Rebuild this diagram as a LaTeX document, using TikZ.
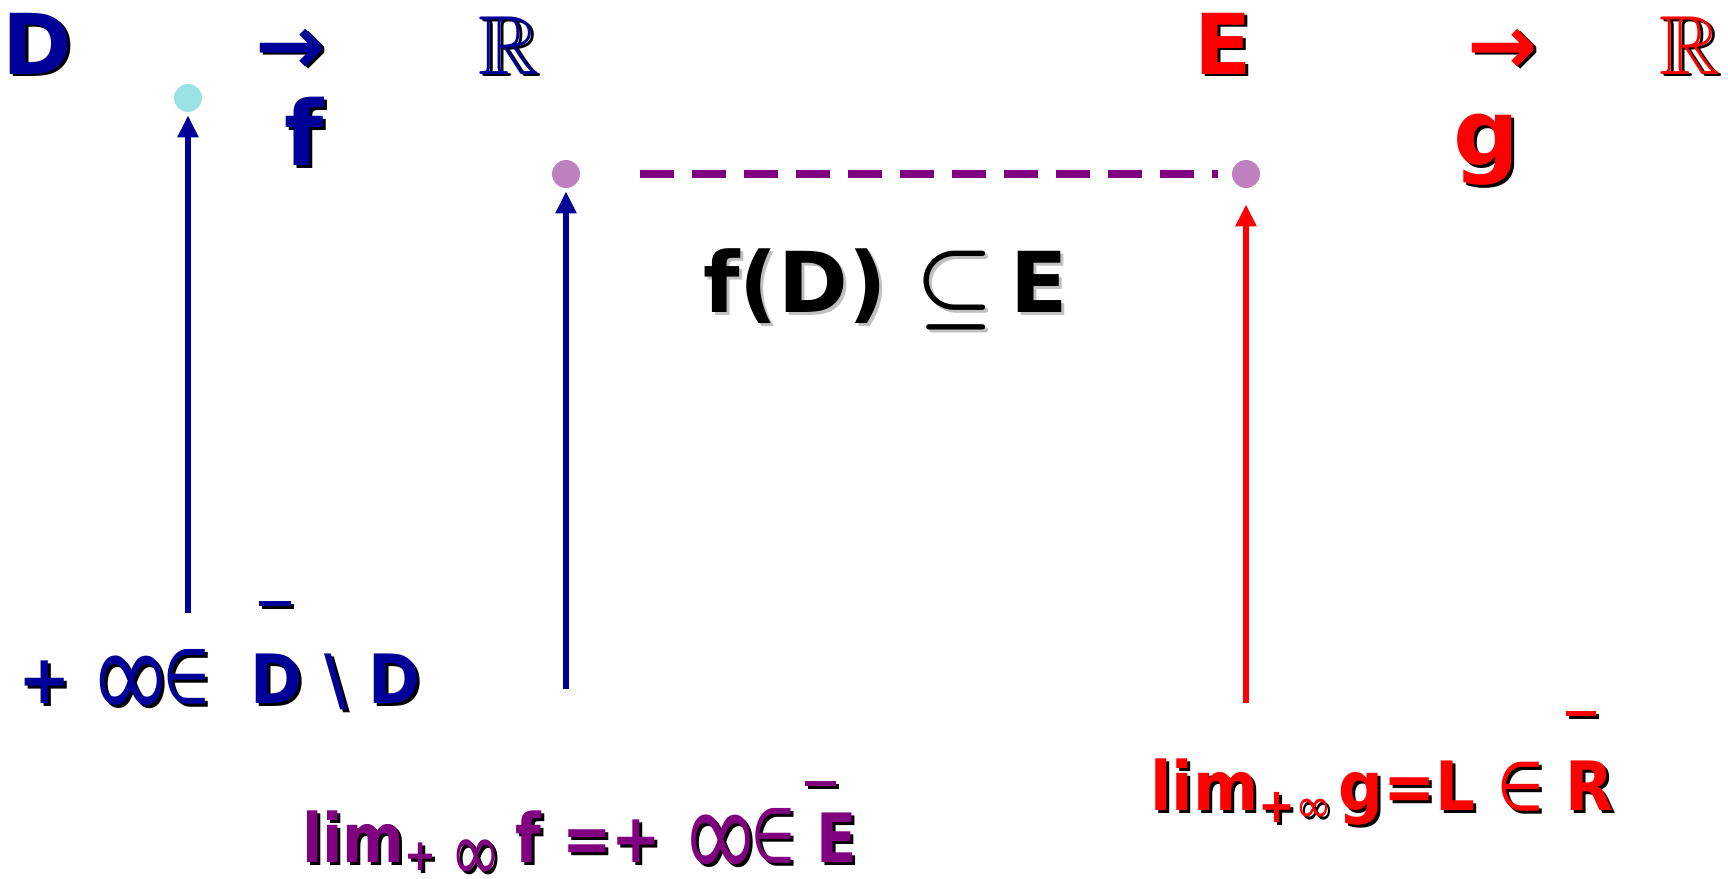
\documentclass[tikz,border=0pt]{standalone}
\usepackage{amsmath,amssymb}
\usepackage{fontspec}
\setmainfont{DejaVu Sans}
\usetikzlibrary{arrows.meta}
\definecolor{fblue}{HTML}{000099}
\definecolor{gred}{HTML}{FF0000}
\definecolor{lpurple}{HTML}{800080}
\definecolor{dotcyan}{HTML}{9BE3E3}
\definecolor{dotpink}{HTML}{BF80BF}
\definecolor{shgray}{HTML}{C0C0C0}
% text with a drop shadow: [shadow]{colour}{text}
\newcommand\shd[3][black]{\rlap{\kern1.5pt\raisebox{-1.5pt}{\color{#1}#3}}{\color{#2}#3}}
% raised bar: {shift}{rise}{length}
\newcommand\hibar[3]{\rlap{\kern#1\raisebox{#2}{\rule{#3}{2.4pt}}}}
% tall infinity and element sign
\newcommand\oo{{\mdseries\raisebox{-0.25em}{\scalebox{1.6}[1.95]{∞}}\kern-0.15em}}
\newcommand\elt{{\mdseries\scalebox{0.85}[1.12]{∈}}}
\begin{document}
\begin{tikzpicture}[x=0.5pt,y=-0.5pt,line cap=butt,>={Triangle[length=11pt,width=10pt]},
  sym/.style={inner sep=0pt,anchor=base,font=\fontsize{42}{42}\selectfont\bfseries},
  lbl/.style={inner sep=0pt,anchor=base west,font=\fontsize{34}{34}\selectfont\bfseries},
  dot/.style={circle,inner sep=0pt,minimum size=14pt},
  rise/.style={line width=3.3pt,->,shorten >=1.5pt}]
\useasboundingbox (0,0) rectangle (1728,878);
% f : D -> R
\node[sym] (Dset) at (37,74) {\shd{fblue}{D}};
\node[sym] (fto) at (291,74) {\shd{fblue}{→}};
\node[sym] (fR) at (509,74) {\shd{fblue}{$\mathbb{R}$}};
\node[sym,font=\fontsize{45}{45}\selectfont\bfseries] (fname) at (304,165) {\shd{fblue}{f}};
% g : E -> R
\node[sym] (Eset) at (1223,74) {\shd{gred}{E}};
\node[sym] (gto) at (1503,74) {\shd{gred}{→}};
\node[sym] (gR) at (1690,74) {\shd{gred}{$\mathbb{R}$}};
\node[sym,font=\fontsize{46}{46}\selectfont\bfseries] (gname) at (1486,165) {\shd{gred}{g}};
% points and limits
\node[dot,fill=dotcyan] (cdot) at (188,98) {};
\node[dot,fill=dotpink] (pdotA) at (566,174) {};
\node[dot,fill=dotpink] (pdotB) at (1246,174) {};
\coordinate (footA) at (188,613);
\coordinate (footB) at (566,689);
\coordinate (footC) at (1246,703);
\draw[rise,fblue] (footA)--(cdot);
\draw[rise,fblue] (footB)--(pdotA);
\draw[rise,gred,shorten >=8pt] (footC)--(pdotB);
\draw[lpurple,line width=4pt,dash pattern=on 17pt off 9pt,shorten <=30pt,shorten >=7pt] (pdotA)--(pdotB);
% labels
\node[sym,anchor=base west] (incl) at (703,312) {\shd[shgray]{black}{f(D) {\fontsize{10}{10}\selectfont\scalebox{4.4}{$\boldsymbol{\subseteq}$}}\hspace{8pt}E}};
\node[lbl] (inftyD) at (18,703) {\shd{fblue}{\scalebox{0.92}[1]{+\hspace{0.3em}\oo\elt\hspace{0.65em}\hibar{4.5pt}{48.5pt}{17.5pt}D \textbackslash{} D}}};
\node[lbl] (limf) at (302,862) {\shd{lpurple}{\scalebox{0.87}[1]{lim\raisebox{-4pt}{\fontsize{22}{22}\selectfont + \oo} f =+ \oo\elt\hspace{0.35em}\hibar{-6.5pt}{38pt}{17.5pt}E}}};
\node[lbl] (limg) at (1150,810) {\shd{gred}{\scalebox{0.92}[1]{lim\raisebox{-6pt}{\fontsize{24}{24}\selectfont+{\mdseries∞}}\hspace{0.1em}g=L {\mdseries\scalebox{0.85}[1]{∈}}\hspace{0.35em}\hibar{0pt}{47pt}{16.5pt}R}}};
\end{tikzpicture}
\end{document}
